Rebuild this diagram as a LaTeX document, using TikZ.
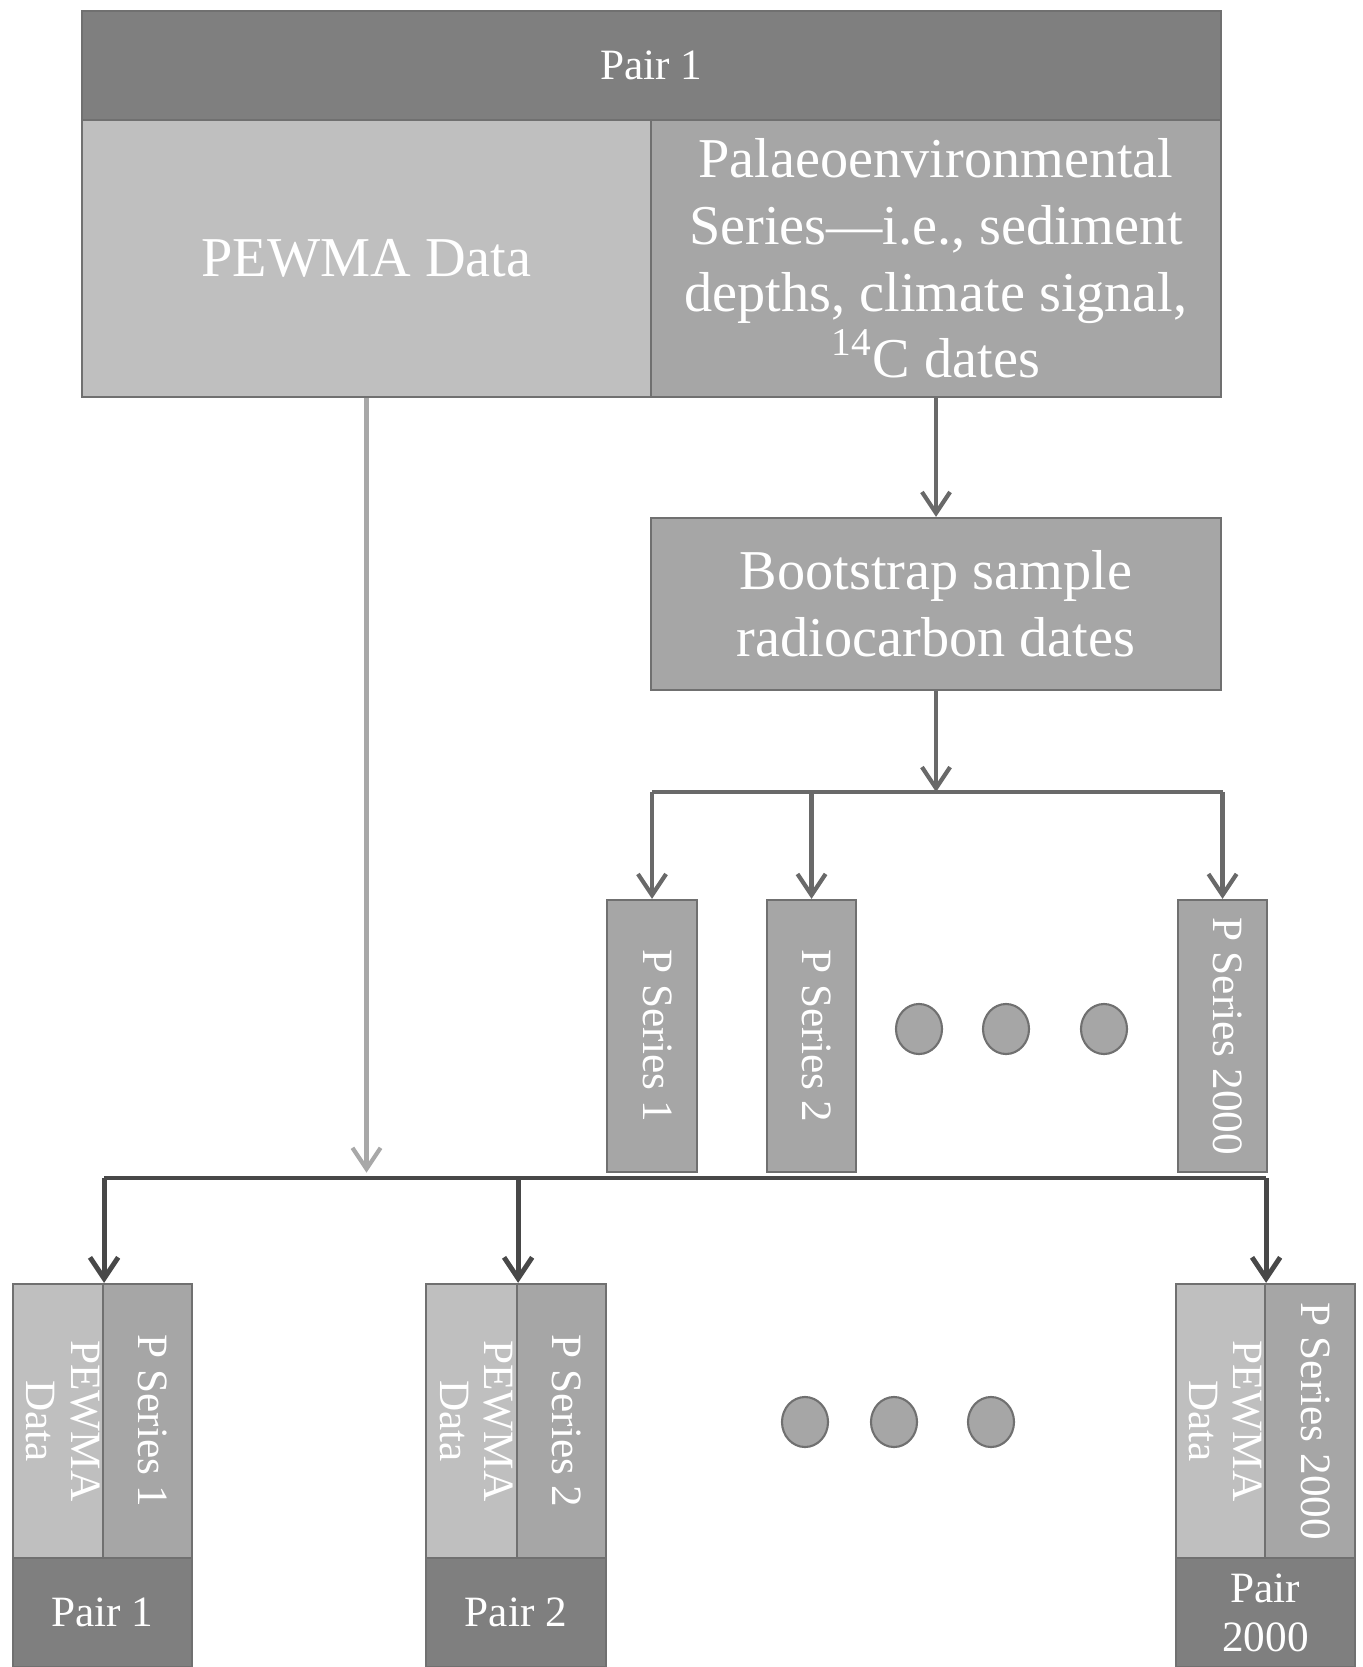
\documentclass[tikz,border=0pt]{standalone}
\usepackage{fontspec}
\setmainfont{Liberation Serif}
\usetikzlibrary{arrows.meta}
\usetikzlibrary{shapes.geometric}
\usepackage{xcolor}

\definecolor{cellD}{RGB}{127,127,127}
\definecolor{cellM}{RGB}{166,166,166}
\definecolor{cellL}{RGB}{191,191,191}
\definecolor{boxline}{RGB}{112,112,112}
\definecolor{arrM}{RGB}{105,105,105}
\definecolor{arrD}{RGB}{72,72,72}
\definecolor{arrL}{RGB}{168,168,168}

\newcommand{\sidetext}[1]{\makebox[0pt]{\rotatebox{-90}{\renewcommand{\arraystretch}{0.9}\begin{tabular}{@{}c@{}}#1\end{tabular}}}}

\tikzset{
  cell/.style={draw=boxline, line width=0.6pt, text=white, inner sep=0pt, align=center},
  darkcell/.style={cell, fill=cellD},
  midcell/.style={cell, fill=cellM},
  lightcell/.style={cell, fill=cellL},
  bigfont/.style={font=\fontsize{16}{19}\selectfont},
  smallfont/.style={font=\fontsize{12.3}{14}\selectfont},
  dot/.style={ellipse, draw=boxline, line width=0.6pt, fill=cellM, minimum width=0.46cm, minimum height=0.50cm, inner sep=0pt},
  tip/.style={-{Straight Barb[length=6pt,width=8pt]}},
  midline/.style={draw=arrM, line width=1.2pt},
  midarrow/.style={midline, tip},
  darkline/.style={draw=arrD, line width=1.4pt},
  darkarrow/.style={darkline, tip},
  lightarrow/.style={draw=arrL, line width=1.2pt, tip}
}

\begin{document}
\begin{tikzpicture}[x=0.01cm,y=-0.01cm]
  \useasboundingbox (0,0) rectangle (1362,1667);
  \clip (0,0) rectangle (1362,1667);

  % top block
  \node[darkcell,smallfont,minimum width=11.39cm,minimum height=1.09cm] (pair) at (651.5,65.5) {Pair 1};
  \node[lightcell,bigfont,minimum width=5.69cm,minimum height=2.77cm] (pewma) at (366.5,258.5) {PEWMA Data};
  \node[midcell,bigfont,minimum width=5.70cm,minimum height=2.77cm] (palaeo) at (936,258.5)
    {Palaeoenvironmental\\Series—i.e., sediment\\depths, climate signal,\\\textsuperscript{14}C dates};

  \node[midcell,bigfont,minimum width=5.70cm,minimum height=1.72cm] (boot) at (936,604) {Bootstrap sample\\radiocarbon dates};

  % resampled series
  \node[midcell,smallfont,minimum width=0.90cm,minimum height=2.72cm] (ps1) at (652,1036) {\sidetext{P Series 1}};
  \node[midcell,smallfont,minimum width=0.89cm,minimum height=2.72cm] (ps2) at (811.5,1036) {\sidetext{P Series 2}};
  \node[midcell,smallfont,minimum width=0.89cm,minimum height=2.72cm] (ps3) at (1222.5,1036) {\sidetext{P Series 2000}};
  \node[dot] (dotA) at (919,1029) {};
  \node[dot] (dotB) at (1006,1029) {};
  \node[dot] (dotC) at (1104,1029) {};

  % pairs
  \node[lightcell,smallfont,minimum width=0.90cm,minimum height=2.74cm] (pe1) at (58,1421) {\sidetext{PEWMA\\Data}};
  \node[midcell,smallfont,minimum width=0.89cm,minimum height=2.74cm] (se1) at (147.5,1421) {\sidetext{P Series 1}};
  \node[darkcell,smallfont,minimum width=1.79cm,minimum height=1.09cm] (pr1) at (102.5,1612.5) {Pair 1};

  \node[lightcell,smallfont,minimum width=0.91cm,minimum height=2.74cm] (pe2) at (471.5,1421) {\sidetext{PEWMA\\Data}};
  \node[midcell,smallfont,minimum width=0.89cm,minimum height=2.74cm] (se2) at (561.5,1421) {\sidetext{P Series 2}};
  \node[darkcell,smallfont,minimum width=1.80cm,minimum height=1.09cm] (pr2) at (516,1612.5) {Pair 2};

  \node[lightcell,smallfont,minimum width=0.89cm,minimum height=2.74cm] (pe3) at (1220.5,1421) {\sidetext{PEWMA\\Data}};
  \node[midcell,smallfont,minimum width=0.90cm,minimum height=2.74cm] (se3) at (1310,1421) {\sidetext{P Series 2000}};
  \node[darkcell,smallfont,minimum width=1.79cm,minimum height=1.09cm] (pr3) at (1265.5,1612.5) {Pair\\2000};

  \node[dot] (dotD) at (805,1422) {};
  \node[dot] (dotE) at (894,1422) {};
  \node[dot] (dotF) at (991,1422) {};

  % connectors
  \coordinate (fork) at (936,792);
  \coordinate (bus) at (366.5,1178);
  \draw[midarrow] (palaeo.south) -- (boot.north);
  \draw[midarrow] (boot.south) -- (fork);
  \draw[midline] (fork -| ps1.north) -- (fork -| ps3.north);
  \draw[midarrow] (fork -| ps1.north) -- (ps1.north);
  \draw[midarrow] (fork -| ps2.north) -- (ps2.north);
  \draw[midarrow] (fork -| ps3.north) -- (ps3.north);

  \draw[lightarrow,shorten >=1.5pt] (pewma.south) -- (bus);
  \draw[darkline] (bus -| pe1.north east) -- (bus -| pe3.north east);
  \draw[darkarrow] (bus -| pe1.north east) -- (pe1.north east);
  \draw[darkarrow] (bus -| pe2.north east) -- (pe2.north east);
  \draw[darkarrow] (bus -| pe3.north east) -- (pe3.north east);
\end{tikzpicture}
\end{document}
